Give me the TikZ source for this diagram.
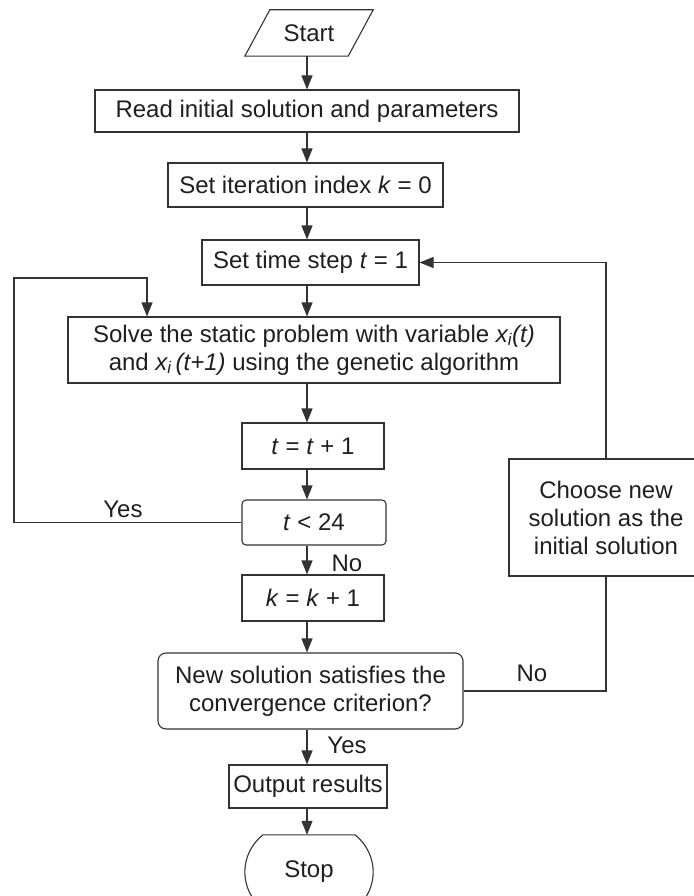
\documentclass[tikz,border=0pt]{standalone}
\usepackage{fontspec}
\setmainfont{Liberation Sans}
\usetikzlibrary{arrows.meta}
\begin{document}
\begin{tikzpicture}[x=1pt,y=-1pt,
  every node/.style={font=\fontsize{24}{28}\selectfont, text=black!88},
  box/.style={draw=black!80, line width=1.1pt, align=center, inner sep=0pt},
  plain/.style={draw=none, align=center, inner sep=0pt},
  conn/.style={draw=black!80, line width=1.1pt},
  arr/.style={conn, -{Triangle[length=14pt,width=11pt]}},
  lbl/.style={inner sep=0pt}]
\useasboundingbox (0,0) rectangle (693,896);
\coordinate (col) at (307,0);
% start
\node[plain, minimum width=103, minimum height=46] (start) at (309,33) {Start};
\draw[conn] ([xshift=-12.5pt]start.south west) -- ([xshift=-12.5pt]start.south east)
  -- ([xshift=12.5pt]start.north east) -- ([xshift=12.5pt]start.north west) -- cycle;
\node[box, minimum width=424, minimum height=42] (read) at (307,111) {Read initial solution and parameters};
\node[box, minimum width=275, minimum height=44] (iter) at (305.5,185) {Set iteration index \textit{k} = 0};
\node[box, minimum width=217, minimum height=45] (tstep) at (310.5,262.5) {Set time step \textit{t} = 1};
\node[box, minimum width=492, minimum height=66] (solve) at (314,350) {Solve the static problem with variable \textit{x\textsubscript{i}(t)}\\ and \textit{x\textsubscript{i}\,(t+1)} using the genetic algorithm};
\node[box, minimum width=142, minimum height=46] (tinc) at (313,446) {\textit{t} = \textit{t} + 1};
\node[box, rounded corners=4pt, minimum width=144, minimum height=45] (tcheck) at (314,522.5) {\textit{t} < 24};
\node[box, minimum width=142, minimum height=46] (kinc) at (313,598) {\textit{k} = \textit{k} + 1};
\node[box, rounded corners=8pt, minimum width=305, minimum height=76] (conv) at (310.5,691) {New solution satisfies the\\ convergence criterion?};
\node[box, minimum width=158, minimum height=43] (out) at (308,786.5) {Output results};
\node[box, minimum width=194, minimum height=117] (choose) at (606,517.5) {Choose new\\ solution as the\\ initial solution};
% stop
\node[plain, minimum width=92, minimum height=74] (stop) at (309,872) {Stop};
\draw[conn] (stop.north west) -- (stop.north east)
  .. controls ([xshift=24pt,yshift=-20pt]stop.north east) and ([xshift=24pt,yshift=20pt]stop.south east) .. (stop.south east)
  -- (stop.south west)
  .. controls ([xshift=-24pt,yshift=20pt]stop.south west) and ([xshift=-24pt,yshift=-20pt]stop.north west) .. (stop.north west);
% main column
\draw[arr] (start.south -| col) -- (read.north -| col);
\draw[arr] (read.south -| col) -- (iter.north -| col);
\draw[arr] (iter.south -| col) -- (tstep.north -| col);
\draw[arr] (tstep.south -| col) -- (solve.north -| col);
\draw[arr] (solve.south -| col) -- (tinc.north -| col);
\draw[arr] (tinc.south -| col) -- (tcheck.north -| col);
\draw[arr] (tcheck.south -| col) -- (kinc.north -| col);
\draw[arr] (kinc.south -| col) -- (conv.north -| col);
\draw[arr] (conv.south -| col) -- (out.north -| col);
\draw[arr] (out.south -| col) -- (stop.north -| col);
% inner loop
\coordinate (lx) at (14,278);
\coordinate (lt) at (147,278);
\draw[arr] (tcheck.west) -| (lx) -- (lt) -- (lt |- solve.north);
% outer loop
\draw[conn] (conv.east) -| (choose.south);
\draw[arr] (choose.north) |- (tstep.east);
% labels
\node[lbl] (yes1) at (123,509) {Yes};
\node[lbl] (no1) at (347,563) {No};
\node[lbl] (no2) at (532,673) {No};
\node[lbl] (yes2) at (347,745) {Yes};
\end{tikzpicture}
\end{document}
